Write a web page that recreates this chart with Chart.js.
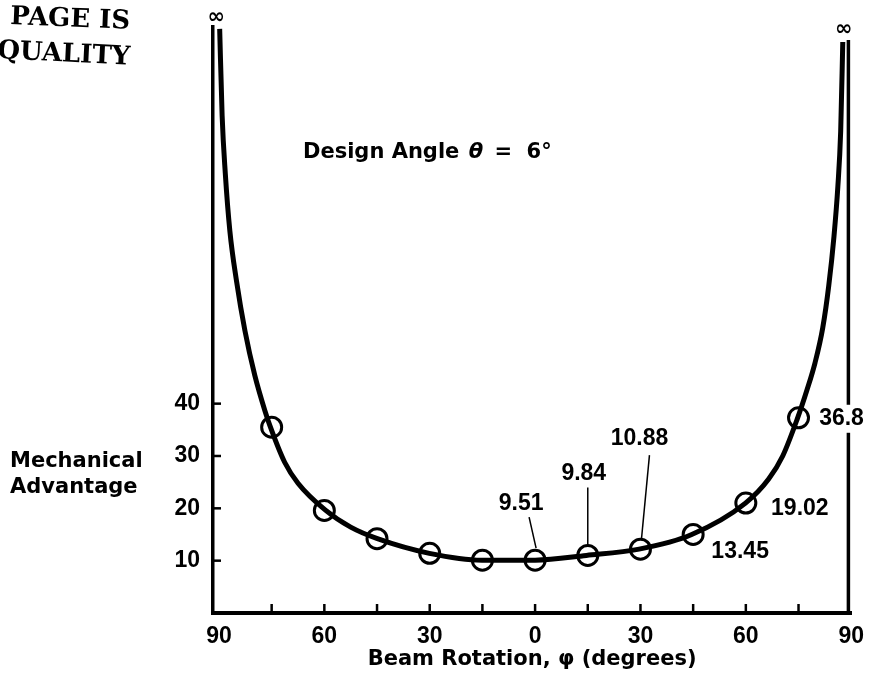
<!DOCTYPE html>
<html>
<head>
<meta charset="utf-8">
<script src="https://cdn.jsdelivr.net/npm/chart.js@4.4.1/dist/chart.umd.min.js"></script>
<style>
    html, body { margin: 0; padding: 0; background: #fff; }
    #wrap { width: 874px; height: 697px; }
</style>
</head>
<body>
<div id="wrap"><canvas id="chart" width="874" height="697"></canvas></div>
<script>
// beam rotation (degrees, left half negative) and mechanical advantage of the circled points
var circleAngles = [-75, -60, -45, -30, -15, 0, 15, 30, 45, 60, 75];
var circleValues = [35.5, 19.6, 14.2, 11.4, 10.1, 10.1, 11.0, 12.2, 15.0, 21.0, 37.3];

// points, both branches run up to infinity
var curveAngles = [-89.8, -89.1, -88.2, -86.9, -85.0, -82.6, -79.8, -76.9, -75.5, -71.3, -67.5, -59.6,
    -52.5, -44.9, -30.1, -15.1, 0, 14.6, 29.6, 44.6, 59.9, 66.5, 70.5, 74.6, 77.4, 79.7, 81.9, 83.6,
    85.1, 86.2, 87.0, 87.6];
var curveValues = [111.6, 95.0, 84.0, 73.0, 63.4, 53.9, 45.4, 38.6, 35.8, 28.8, 24.8, 19.6,
    16.4, 14.2, 11.4, 10.1, 10.1, 11.0, 12.2, 15.0, 21.0, 25.6, 30.0, 37.0, 42.6, 47.8, 54.5, 62.5,
    72.0, 81.5, 92.0, 109.1];

var xTickValues = [-90, -75, -60, -45, -30, -15, 0, 15, 30, 45, 60, 75, 90];
var yTickValues = [10, 20, 30, 40];

// values written next to the right hand circles
var noteAngles = [0, 15, 30, 45, 60, 75];
var noteTexts = ['9.51', '9.84', '10.88', '13.45', '19.02', '36.8'];

(function () {
    var numFont = 'bold 23px "Liberation Sans", Arial, sans-serif';
    var wordFont = 'bold 21px "DejaVu Sans", sans-serif';

    // label offsets from the circle centre, and leader lines [x1, y1, x2, y2]
    var noteOffsets = [[-14, -56], [-4, -82], [-1, -110], [47, 17], [54, 6], [43, 1]];
    var leaders = [[-6, -43, 1, -12], [0, -68, 0, -10], [9, -94, 1, -10], null, null, null];

    function toPoints(xs, ys) {
        return xs.map(function (x, i) { return { x: x, y: ys[i] }; });
    }

    var decorations = {
        id: 'decorations',
        afterDraw: function (chart) {
            var ctx = chart.ctx,
                area = chart.chartArea,
                xs = chart.scales.x,
                ys = chart.scales.y;
            ctx.save();
            ctx.strokeStyle = '#000';
            ctx.fillStyle = '#000';

            // right hand frame line
            ctx.lineWidth = 3.5;
            var rx = xs.getPixelForValue(89.2);
            ctx.beginPath();
            ctx.moveTo(rx, ys.getPixelForValue(109.5));
            ctx.lineTo(rx, area.bottom + 2);
            ctx.stroke();

            // tick marks pointing into the plot
            ctx.lineWidth = 2.5;
            xs.ticks.forEach(function (t) {
                if (Math.abs(t.value) >= 90) return;
                var px = xs.getPixelForValue(t.value);
                ctx.beginPath();
                ctx.moveTo(px, area.bottom);
                ctx.lineTo(px, area.bottom - 9);
                ctx.stroke();
            });
            ys.ticks.forEach(function (t) {
                var py = ys.getPixelForValue(t.value);
                ctx.beginPath();
                ctx.moveTo(area.left, py);
                ctx.lineTo(area.left + 8, py);
                ctx.stroke();
            });

            // value notes, the frame line is broken where a note crosses it
            ctx.font = numFont;
            ctx.textAlign = 'center';
            ctx.textBaseline = 'middle';
            ctx.lineWidth = 1.5;
            noteAngles.forEach(function (a, i) {
                var k = circleAngles.indexOf(a);
                var cx = xs.getPixelForValue(a),
                    cy = ys.getPixelForValue(circleValues[k]);
                var nx = cx + noteOffsets[i][0],
                    ny = cy + noteOffsets[i][1];
                var w = ctx.measureText(noteTexts[i]).width;
                if (nx + w / 2 > rx) {
                    ctx.fillStyle = '#fff';
                    ctx.fillRect(nx - w / 2 - 2, ny - 14, w + 4, 28);
                    ctx.fillStyle = '#000';
                }
                ctx.fillText(noteTexts[i], nx, ny);
                var l = leaders[i];
                if (l) {
                    ctx.beginPath();
                    ctx.moveTo(cx + l[0], cy + l[1]);
                    ctx.lineTo(cx + l[2], cy + l[3]);
                    ctx.stroke();
                }
            });

            // infinity marks at the top of both branches
            ctx.font = 'bold 21px "DejaVu Sans", sans-serif';
            var n = curveAngles.length - 1;
            var lx = (area.left + xs.getPixelForValue(curveAngles[0])) / 2;
            ctx.fillText('\u221e', lx, ys.getPixelForValue(curveValues[0]) - 11);
            ctx.fillText('\u221e', xs.getPixelForValue(curveAngles[n]) + 1, ys.getPixelForValue(curveValues[n]) - 12);

            // y axis title, written horizontally
            ctx.font = wordFont;
            ctx.textAlign = 'left';
            ctx.textBaseline = 'alphabetic';
            ctx.fillText('Mechanical', 10, 467);
            ctx.fillText('Advantage', 10, 493);

            // design angle note
            var tx = 303, ty = 158;
            var part1 = 'Design Angle ';
            ctx.fillText(part1, tx, ty);
            tx += ctx.measureText(part1).width + 2;
            ctx.font = 'italic bold 21px "DejaVu Sans", sans-serif';
            ctx.fillText('\u03b8', tx, ty);
            tx += ctx.measureText('\u03b8').width + 4;
            ctx.font = wordFont;
            ctx.fillText(' =  6\u00b0', tx, ty);

            // stamp left over from the scanned page
            ctx.font = 'bold 26px "DejaVu Serif", "Liberation Serif", serif';
            ctx.save();
            ctx.translate(10, 24);
            ctx.rotate(0.04);
            ctx.fillText('PAGE IS', 0, 0);
            ctx.restore();
            ctx.save();
            ctx.translate(-3, 58);
            ctx.rotate(0.05);
            ctx.fillText('QUALITY', 0, 0);
            ctx.restore();

            ctx.restore();
        }
    };

    new Chart(document.getElementById('chart').getContext('2d'), {
        type: 'scatter',
        data: {
            datasets: [
                {
                    label: 'points',
                    data: toPoints(circleAngles, circleValues),
                    showLine: false,
                    pointRadius: 10,
                    pointBorderWidth: 3,
                    pointBorderColor: '#000',
                    pointBackgroundColor: 'rgba(0,0,0,0)',
                    clip: false
                },
                {
                    label: 'curve',
                    data: toPoints(curveAngles, curveValues),
                    showLine: true,
                    borderColor: '#000',
                    borderWidth: 5,
                    pointRadius: 0,
                    cubicInterpolationMode: 'monotone',
                    clip: false
                }
            ]
        },
        options: {
            responsive: false,
            animation: false,
            devicePixelRatio: 1,
            layout: { padding: { left: 0, right: 19, top: 25, bottom: 0 } },
            plugins: {
                legend: { display: false },
                tooltip: { enabled: false }
            },
            scales: {
                x: {
                    type: 'linear',
                    min: -91.7,
                    max: 90,
                    afterBuildTicks: function (scale) {
                        scale.ticks = xTickValues.map(function (v) { return { value: v }; });
                    },
                    afterFit: function (scale) { scale.height = 84; },
                    grid: { display: false, drawTicks: false },
                    border: { display: true, color: '#000', width: 4 },
                    ticks: {
                        autoSkip: false,
                        maxRotation: 0,
                        padding: 10,
                        color: '#000',
                        font: { family: '"Liberation Sans", Arial, sans-serif', size: 23, weight: 'bold' },
                        callback: function (v) { return v % 30 === 0 ? String(Math.abs(v)) : ''; }
                    },
                    title: {
                        display: true,
                        text: 'Beam Rotation, \u03c6 (degrees)',
                        color: '#000',
                        font: { family: '"DejaVu Sans", sans-serif', size: 21, weight: 'bold' },
                        padding: { top: 0, bottom: 25 }
                    }
                },
                y: {
                    type: 'linear',
                    min: 0,
                    max: 112,
                    afterBuildTicks: function (scale) {
                        scale.ticks = yTickValues.map(function (v) { return { value: v }; });
                    },
                    afterFit: function (scale) { scale.width = 213; },
                    grid: { display: false, drawTicks: false },
                    border: { display: true, color: '#000', width: 3.5 },
                    ticks: {
                        padding: 13,
                        color: '#000',
                        font: { family: '"Liberation Sans", Arial, sans-serif', size: 23, weight: 'bold' }
                    }
                }
            }
        },
        plugins: [decorations]
    });
})();
</script>
</body>
</html>
